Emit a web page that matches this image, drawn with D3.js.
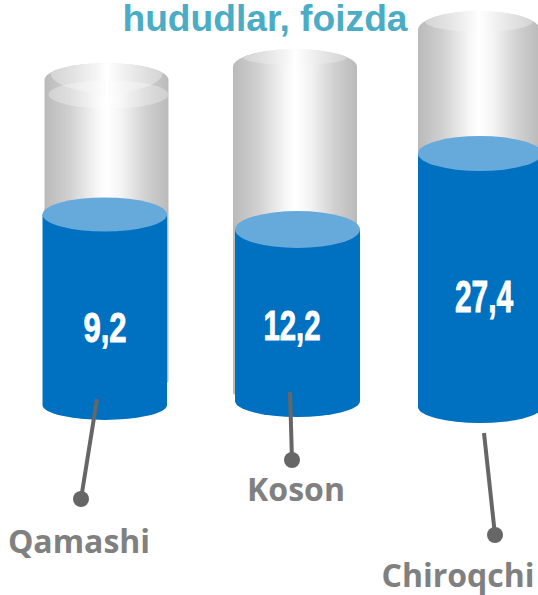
<!DOCTYPE html>
<html>
<head>
<meta charset="utf-8">
<script src="https://cdnjs.cloudflare.com/ajax/libs/d3/7.8.5/d3.min.js"></script>
<style>
  html, body { margin: 0; padding: 0; background: #fff; overflow: hidden; }
</style>
</head>
<body>
<div id="chart"></div>
<script>
// data
var categories = ['Qamashi', 'Koson', 'Chiroqchi'];
var values = [9.2, 12.2, 27.4];
var valueLabels = ['9,2', '12,2', '27,4'];
var title = 'hududlar, foizda';

var w = 538, h = 595;

// the cylinders in the source are not drawn to scale, so each scale is keyed by category
function byCat(range) { return d3.scaleOrdinal().domain(categories).range(range); }

var glassX = byCat([44.5, 233, 418]), glassW = byCat([124, 124, 122]);
var glassEdge = byCat([80, 67, 30]), domeRy = byCat([17, 18, 19]), glassBottom = byCat([381, 393, 395]);
var capBottom = byCat([93, 65, 32]), capDx = byCat([56, 52, 54]);
var blueX = byCat([42.5, 235, 418]), blueW = byCat([124.5, 125, 124]);
var blueBottom = byCat([405, 401, 407]);
var blueRy = byCat([17, 18.5, 17.5]), bottomRy = byCat([15, 16, 16]);
// fill level: value -> y of the blue top, piecewise through the three readings
var level = d3.scaleLinear().domain(values).range([214.5, 229.5, 153.5]);

var labelX = byCat([105, 292, 484]), labelY = byCat([342, 340, 312]);
var labelSize = byCat([42, 42, 44]), labelSquash = byCat([0.74, 0.7, 0.68]);
var stemX1 = byCat([97, 290, 484]), stemY1 = byCat([399, 392, 433]);
var dotX = byCat([81, 292, 495]), dotY = byCat([499, 460, 535]);
var catX = byCat([79, 296, 458]), catY = byCat([553, 501, 587]);

var rows = categories.map(function (c, i) {
  return { cat: c, value: values[i], label: valueLabels[i] };
});

var svg = d3.select('#chart').append('svg').attr('width', w).attr('height', h);
var defs = svg.append('defs');

// glass gradients
function metal(id, edge, mid) {
  var g = defs.append('linearGradient').attr('id', id);
  [[0, edge], [0.2, mid], [0.42, '#f6f6f6'], [0.5, '#fff'], [0.62, '#f4f4f4'], [0.82, mid], [1, edge]].forEach(function (s) {
    g.append('stop').attr('offset', s[0]).attr('stop-color', s[1]);
  });
}
metal('glassBody', '#bababa', '#d0d0d0');
metal('glassCap', '#d4d4d4', '#e2e2e2');

// body outline: domed top, rounded bottom
function bodyPath(x, width, top, dome, bottom, ry) {
  var rx = width / 2;
  return 'M' + x + ',' + top + 'L' + x + ',' + bottom +
    'A' + rx + ',' + ry + ' 0 0 0 ' + (x + width) + ',' + bottom +
    'L' + (x + width) + ',' + top +
    'A' + rx + ',' + dome + ' 0 0 0 ' + x + ',' + top + 'Z';
}

// lighter lens on top of the glass: upper edge follows the dome
function capPath(c) {
  var rx = glassW(c) / 2, cx = glassX(c) + rx, dx = capDx(c);
  var tipY = glassEdge(c) - domeRy(c) * Math.sqrt(1 - dx * dx / (rx * rx));
  return 'M' + (cx - dx) + ',' + tipY +
    'A' + rx + ',' + domeRy(c) + ' 0 0 1 ' + (cx + dx) + ',' + tipY +
    'A' + dx + ',' + (capBottom(c) - tipY) + ' 0 0 1 ' + (cx - dx) + ',' + tipY + 'Z';
}

var cyl = svg.selectAll('.cyl').data(rows).enter().append('g').attr('class', 'cyl');

// glass part
cyl.append('path').attr('fill', 'url(#glassBody)')
  .attr('d', function (d) {
    return bodyPath(glassX(d.cat), glassW(d.cat), glassEdge(d.cat), domeRy(d.cat), glassBottom(d.cat), 8);
  });
cyl.append('path').attr('fill', 'url(#glassCap)')
  .attr('d', function (d) { return capPath(d.cat); });

// second rim only on the first cylinder
cyl.filter(function (d) { return d.cat === 'Qamashi'; }).append('ellipse')
  .attr('fill', '#fff').attr('fill-opacity', 0.3)
  .attr('cx', function (d) { return glassX(d.cat) + glassW(d.cat) / 2 + 2; })
  .attr('cy', 94.5).attr('rx', 60).attr('ry', 14);

// blue part
cyl.append('path').attr('fill', '#0070c0')
  .attr('d', function (d) {
    return bodyPath(blueX(d.cat), blueW(d.cat), level(d.value), 0.01, blueBottom(d.cat), bottomRy(d.cat));
  });
cyl.append('ellipse').attr('fill', '#66a9db')
  .attr('cx', function (d) { return blueX(d.cat) + blueW(d.cat) / 2; })
  .attr('cy', function (d) { return level(d.value); })
  .attr('rx', function (d) { return blueW(d.cat) / 2; })
  .attr('ry', function (d) { return blueRy(d.cat); });

// values
cyl.append('text').text(function (d) { return d.label; })
  .attr('transform', function (d) {
    return 'translate(' + labelX(d.cat) + ',' + labelY(d.cat) + ') scale(' + labelSquash(d.cat) + ',1)';
  })
  .attr('text-anchor', 'middle')
  .attr('font-family', '"Liberation Sans", Arial, sans-serif')
  .attr('font-weight', 700)
  .attr('font-size', function (d) { return labelSize(d.cat); })
  .attr('fill', '#fff').attr('stroke', '#fff').attr('stroke-width', 0.9);

// leader lines
cyl.append('line').attr('stroke', '#666').attr('stroke-width', 4)
  .attr('x1', function (d) { return stemX1(d.cat); })
  .attr('y1', function (d) { return stemY1(d.cat); })
  .attr('x2', function (d) { return dotX(d.cat); })
  .attr('y2', function (d) { return dotY(d.cat); });
cyl.append('circle').attr('fill', '#666').attr('r', 8)
  .attr('cx', function (d) { return dotX(d.cat); })
  .attr('cy', function (d) { return dotY(d.cat); });

// category names
cyl.append('text').text(function (d) { return d.cat; })
  .attr('x', function (d) { return catX(d.cat); })
  .attr('y', function (d) { return catY(d.cat); })
  .attr('text-anchor', 'middle')
  .attr('font-family', '"Open Sans", sans-serif')
  .attr('font-weight', 700).attr('font-size', 32)
  .attr('fill', '#808080');

// title goes last, as in the source
svg.append('text').text(title)
  .attr('x', 265).attr('y', 31)
  .attr('text-anchor', 'middle')
  .attr('font-family', '"Liberation Sans", Arial, sans-serif')
  .attr('font-weight', 700).attr('font-size', 37.2)
  .attr('fill', '#4bacc6');
</script>
</body>
</html>
